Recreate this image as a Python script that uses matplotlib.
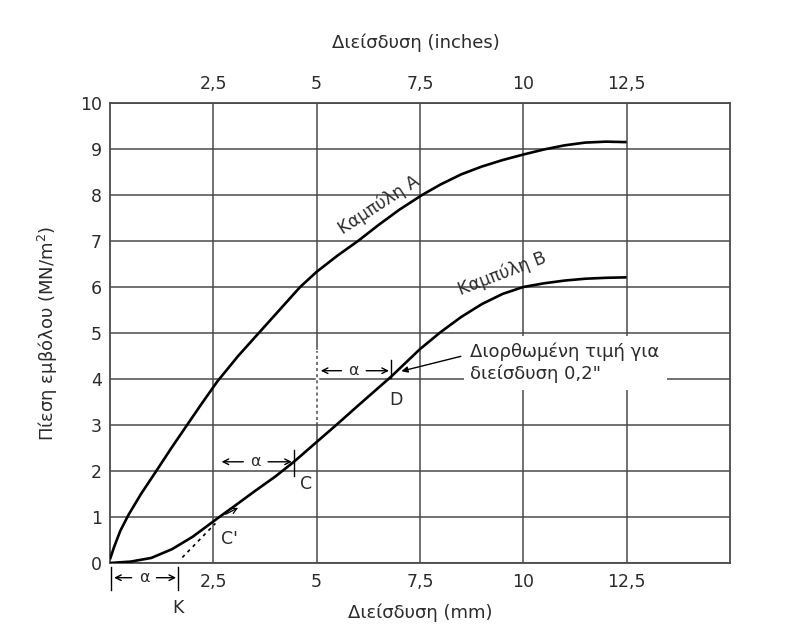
import matplotlib.pyplot as plt

plt.rcParams['font.family'] = ['DejaVu Sans']

# Καμπύλη A: διείσδυση (mm) -> πίεση εμβόλου (MN/m2)
pen_a = [0, 0.1, 0.25, 0.45, 0.75, 1.12, 1.5, 1.85, 2.2, 2.6, 3.1, 3.6, 4.1, 4.6, 5.0,
         5.5, 6.0, 6.5, 7.0, 7.55, 8.0, 8.5, 9.0, 9.5, 10.0, 10.5, 11.0, 11.5, 12.0, 12.5]
pres_a = [0.08, 0.35, 0.7, 1.05, 1.5, 2.0, 2.52, 2.98, 3.44, 3.95, 4.5, 5.0, 5.5, 6.0, 6.33,
          6.68, 7.0, 7.35, 7.68, 8.0, 8.23, 8.45, 8.62, 8.76, 8.88, 8.99, 9.08, 9.14, 9.16, 9.15]

# Καμπύλη B
pen_b = [0, 0.5, 1.0, 1.5, 2.0, 2.3, 2.6, 3.0, 3.5, 4.0, 4.45, 5.0, 5.5, 6.0, 6.8,
         7.5, 8.0, 8.5, 9.0, 9.5, 10.0, 10.5, 11.0, 11.5, 12.0, 12.5]
pres_b = [0.0, 0.03, 0.11, 0.3, 0.57, 0.77, 0.97, 1.23, 1.56, 1.88, 2.2, 2.63, 3.02, 3.42, 4.05,
          4.65, 5.02, 5.35, 5.63, 5.85, 6.0, 6.08, 6.14, 6.18, 6.2, 6.21]

# σημεία κατασκευής της διόρθωσης
point_k = (1.65, 0.0)
point_c1 = (2.6, 1.0)
point_c = (4.45, 2.2)
point_d = (6.8, 4.05)

x_ticks = [2.5, 5, 7.5, 10, 12.5]
x_labels = ['2,5', '5', '7,5', '10', '12,5']
y_ticks = list(range(0, 11))

ink = '#2b2b2b'
grid_col = '#4a4a4a'

fig = plt.figure(figsize=(7.93, 6.32), dpi=100)
ax = fig.add_axes([0.1387, 0.1092, 0.7818, 0.7278])

ax.set_xlim(0, 15)
ax.set_ylim(0, 10)
ax.set_xticks(x_ticks)
ax.set_xticklabels(x_labels)
ax.set_yticks(y_ticks)
ax.tick_params(axis='x', top=True, labeltop=True, length=0, pad=7,
               labelsize=12.5, labelcolor=ink)
ax.tick_params(axis='y', length=0, pad=6, labelsize=12.5, labelcolor=ink)
ax.grid(True, color=grid_col, lw=1.1)
ax.set_axisbelow(True)
for sp in ax.spines.values():
    sp.set_color(grid_col)
    sp.set_linewidth(1.3)

ax.set_xlabel('Διείσδυση (mm)', fontsize=13, color=ink, labelpad=9)
ax.set_ylabel('Πίεση εμβόλου (MN/m$^2$)', fontsize=13, color=ink, labelpad=14)
fig.text(0.525, 0.933, 'Διείσδυση (inches)', fontsize=13, color=ink,
         ha='center', va='center')

# οι δύο καμπύλες
ax.plot(pen_a, pres_a, color='black', lw=1.9, solid_capstyle='butt', zorder=3)
ax.plot(pen_b, pres_b, color='black', lw=1.9, solid_capstyle='butt', zorder=3)

ax.text(6.5, 7.78, 'Καμπύλη A', rotation=33, fontsize=12.5, color=ink,
        ha='center', va='center', rotation_mode='anchor')
ax.text(9.5, 6.28, 'Καμπύλη B', rotation=21, fontsize=12.5, color=ink,
        ha='center', va='center', rotation_mode='anchor')


def alpha_span(x0, x1, y, tick_lo, tick_hi, clip=True):
    # |<- α ->| πάνω από το διάστημα x0..x1
    mid = (x0 + x1) / 2
    arr = dict(arrowstyle='->', color='black', lw=1.0, shrinkA=0, shrinkB=0)
    ax.annotate('', xy=(x0 + 0.1, y), xytext=(mid - 0.3, y), arrowprops=arr,
                annotation_clip=False)
    ax.annotate('', xy=(x1 - 0.05, y), xytext=(mid + 0.3, y), arrowprops=arr,
                annotation_clip=False)
    ax.text(mid, y, 'α', fontsize=11.5, color=ink, ha='center', va='center')
    ax.plot([x1, x1], [tick_lo, tick_hi], color='black', lw=1.0, clip_on=clip)


alpha_span(2.6, point_c[0], 2.2, 1.9, 2.45)
alpha_span(5.0, point_d[0], 4.18, 4.02, 4.42)
alpha_span(0.0, point_k[0], -0.32, -0.08, -0.58, clip=False)
ax.plot([0.02, 0.02], [-0.08, -0.58], color='black', lw=1.0, clip_on=False)

# διακεκομμένη εφαπτομένη από το K προς το C'
ax.plot([1.75, 2.55], [0.12, 0.86], color='black', lw=1.2, ls=(0, (2, 2.5)), zorder=3)
ax.annotate('', xy=(3.1, 1.2), xytext=(2.8, 1.06),
            arrowprops=dict(arrowstyle='->', color='black', lw=0.9,
                            shrinkA=0, shrinkB=0))

# διακεκομμένο τμήμα στη γραμμή των 5 mm
ax.plot([5.0, 5.0], [3.1, 4.6], color='white', lw=2.5, zorder=2)
ax.plot([5.0, 5.0], [3.1, 4.6], color=grid_col, lw=1.1, ls=(0, (2, 2)), zorder=2)

ax.text(point_c[0] + 0.3, 1.72, 'C', fontsize=12.5, color=ink, ha='center', va='center')
ax.text(point_c1[0] + 0.28, 0.52, "C'", fontsize=12.5, color=ink, ha='center', va='center')
ax.text(point_d[0] + 0.12, 3.55, 'D', fontsize=12.5, color=ink, ha='center', va='center')
ax.text(point_k[0], -0.97, 'K', fontsize=12.5, color=ink, ha='center', va='center',
        clip_on=False)

ax.annotate('Διορθωμένη τιμή για\nδιείσδυση 0,2"', xy=(7.05, 4.17), xytext=(8.72, 4.35),
            fontsize=13, color=ink, ha='left', va='center', linespacing=1.25,
            bbox=dict(facecolor='white', edgecolor='none', pad=5),
            arrowprops=dict(arrowstyle='-|>', color='black', lw=1.0,
                            mutation_scale=9, shrinkA=2, shrinkB=0,
                            relpos=(0.0, 0.72)),
            zorder=4)

fig.savefig('out.png', dpi=100, facecolor='white')
